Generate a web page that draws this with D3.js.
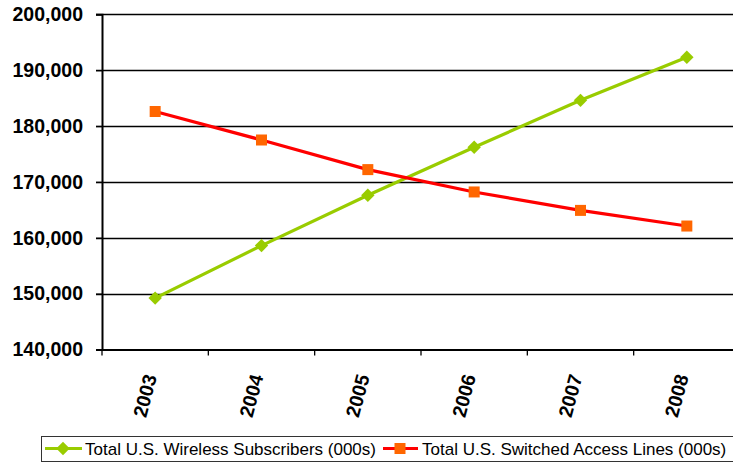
<!DOCTYPE html>
<html>
<head>
<meta charset="utf-8">
<script src="https://d3js.org/d3.v7.min.js"></script>
<style>
  body { margin: 0; background: #fff; }
  svg { display: block; font-family: "Liberation Sans", Arial, sans-serif; }
</style>
</head>
<body>
<div id="vis"></div>
<script>
  // data
  var years = ["2003", "2004", "2005", "2006", "2007", "2008"];
  var wireless = [149200, 158600, 167600, 176200, 184600, 192300];
  var switched = [182600, 177500, 172200, 168200, 164900, 162100];
  var yTicks = [140000, 150000, 160000, 170000, 180000, 190000, 200000];
  var seriesNames = ["Total U.S. Wireless Subscribers (000s)", "Total U.S. Switched Access Lines (000s)"];

  var width = 733, height = 463;
  var plotLeft = 102, plotRight = 740, plotTop = 14.3, plotBottom = 349.5;

  var svg = d3.select("#vis").append("svg")
    .attr("width", width)
    .attr("height", height);

  var x = d3.scaleBand().domain(years).range([plotLeft, plotRight]).padding(0);
  var y = d3.scaleLinear().domain([140000, 200000]).range([plotBottom, plotTop]);

  // gridlines
  svg.append("g").selectAll("line")
    .data(yTicks.slice(1))
    .enter().append("line")
    .attr("x1", plotLeft - 6).attr("x2", plotRight)
    .attr("y1", function(d){ return Math.round(y(d)) + 0.5; })
    .attr("y2", function(d){ return Math.round(y(d)) + 0.5; })
    .attr("stroke", "#000").attr("stroke-width", 1.3);

  // y axis
  var yAxis = svg.append("g")
    .attr("transform", "translate(" + plotLeft + ",0)")
    .call(d3.axisLeft(y).tickValues(yTicks).tickSize(6).tickPadding(13).tickFormat(d3.format(",")));
  yAxis.select(".domain").attr("stroke", "#000").attr("stroke-width", 2);
  yAxis.selectAll(".tick line").attr("stroke", "#000").attr("stroke-width", 1.3);
  yAxis.selectAll("text")
    .attr("fill", "#000")
    .style("font-size", "19.5px").style("font-weight", "bold")
    .style("font-family", "'Liberation Sans', Arial, sans-serif");

  // x axis
  var xAxis = svg.append("g")
    .attr("transform", "translate(0," + plotBottom + ")")
    .call(d3.axisBottom(x).tickSize(0).tickFormat(""));
  xAxis.select(".domain").attr("stroke", "#000").attr("stroke-width", 2);

  // ticks between categories
  var bounds = years.map(function(d){ return x(d); }).concat([plotRight]);
  svg.append("g").selectAll("line")
    .data(bounds)
    .enter().append("line")
    .attr("x1", function(d){ return d; }).attr("x2", function(d){ return d; })
    .attr("y1", plotBottom).attr("y2", plotBottom + 6)
    .attr("stroke", "#000").attr("stroke-width", 1.3);

  // x labels, slanted
  svg.append("g").selectAll("text")
    .data(years)
    .enter().append("text")
    .attr("transform", function(d){
      var cx = x(d) + x.bandwidth() / 2 + 2;
      return "translate(" + cx + "," + (plotBottom + 27) + ") rotate(-75)";
    })
    .attr("text-anchor", "end")
    .attr("font-size", "19.5px")
    .attr("font-weight", "bold")
    .attr("fill", "#000")
    .text(function(d){ return d; });

  var cx = function(d, i){ return x(years[i]) + x.bandwidth() / 2; };

  var line = d3.line()
    .x(function(d, i){ return cx(d, i); })
    .y(function(d){ return y(d); });

  // wireless (green diamonds)
  svg.append("path")
    .datum(wireless)
    .attr("d", line)
    .attr("fill", "none")
    .attr("stroke", "#99CC00")
    .attr("stroke-width", 3.2);

  var diamond = d3.symbol().type(d3.symbolSquare).size(90);
  svg.append("g").selectAll("path")
    .data(wireless)
    .enter().append("path")
    .attr("d", diamond)
    .attr("transform", function(d, i){ return "translate(" + cx(d, i) + "," + y(d) + ") rotate(45)"; })
    .attr("fill", "#99CC00");

  // switched (red line, orange squares)
  svg.append("path")
    .datum(switched)
    .attr("d", line)
    .attr("fill", "none")
    .attr("stroke", "#FF0000")
    .attr("stroke-width", 3.2);

  svg.append("g").selectAll("rect")
    .data(switched)
    .enter().append("rect")
    .attr("x", function(d, i){ return cx(d, i) - 5.5; })
    .attr("y", function(d){ return y(d) - 5.5; })
    .attr("width", 11).attr("height", 11)
    .attr("fill", "#FF6600");

  // legend
  var legend = svg.append("g");
  legend.append("rect")
    .attr("x", 41.5).attr("y", 436.5)
    .attr("width", 760).attr("height", 25)
    .attr("fill", "#fff")
    .attr("stroke", "#333").attr("stroke-width", 1);

  var ly = 448.5;
  legend.append("line")
    .attr("x1", 45).attr("x2", 82).attr("y1", ly).attr("y2", ly)
    .attr("stroke", "#99CC00").attr("stroke-width", 3.2);
  legend.append("path")
    .attr("d", diamond)
    .attr("transform", "translate(63," + ly + ") rotate(45)")
    .attr("fill", "#99CC00");
  legend.append("text")
    .attr("x", 85).attr("y", ly + 6)
    .attr("font-size", "17px").attr("fill", "#000")
    .text(seriesNames[0]);

  legend.append("line")
    .attr("x1", 383).attr("x2", 418).attr("y1", ly).attr("y2", ly)
    .attr("stroke", "#FF0000").attr("stroke-width", 3.2);
  legend.append("rect")
    .attr("x", 400 - 5.5).attr("y", ly - 5.5)
    .attr("width", 11).attr("height", 11)
    .attr("fill", "#FF6600");
  legend.append("text")
    .attr("x", 422).attr("y", ly + 6)
    .attr("font-size", "17px").attr("fill", "#000")
    .text(seriesNames[1]);
</script>
</body>
</html>
